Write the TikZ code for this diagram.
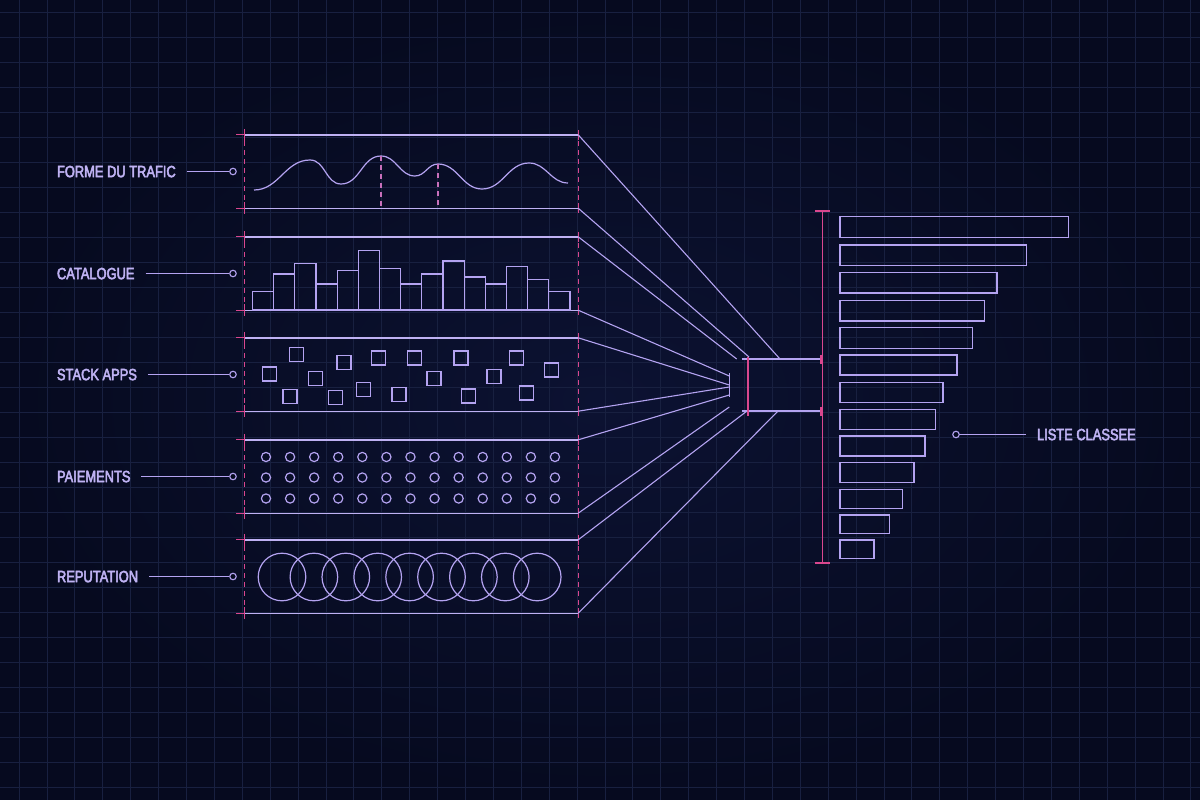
\documentclass[tikz,border=0pt]{standalone}
\usepackage{fontspec}
\newfontfamily\tagfont{Liberation Sans}[FakeStretch=0.79, FakeBold=3]
\usetikzlibrary{positioning}
\definecolor{night}{HTML}{060A1F}
\definecolor{nightglow}{HTML}{0C1232}
\definecolor{gridblue}{HTML}{182040}
\definecolor{lilac}{HTML}{B4A3F1}
\definecolor{lilactext}{HTML}{BFB2F3}
\definecolor{rose}{HTML}{D9478F}

\begin{document}
\begin{tikzpicture}[
  x=1pt, y=-1pt,
  band/.style={minimum width=333pt, minimum height=73pt, inner sep=0pt},
  tag/.style={text=lilactext, font=\tagfont\fontsize{16.3}{18}\selectfont, inner sep=0pt, outer xsep=11pt, text depth=0pt, anchor=west},
  pindot/.style={circle, draw=lilac, line width=1.1pt, fill=night, minimum size=6.5pt, inner sep=0pt},
  wire/.style={draw=lilac, line width=1.1pt},
  rail/.style={draw=lilac!85!white, line width=1.4pt},
  guide/.style={draw=rose, line width=1.1pt, dash pattern=on 5pt off 4pt},
  tick/.style={draw=rose, line width=1.2pt},
  shapeline/.style={draw=lilac, line width=1.2pt},
  fan/.style={draw=lilac, line width=1.1pt},
  gridline/.style={draw=gridblue, line width=0.8pt}
]
\useasboundingbox (0,0) rectangle (1200,800);
\shade[inner color=nightglow, outer color=night] (0,0) rectangle (1200,800);
\foreach \k in {0,...,42} \draw[gridline] (19+27.9*\k,0) -- (19+27.9*\k,800);
\foreach \k in {0,...,31} \draw[gridline] (0,12+25*\k) -- (1200,12+25*\k);

% input bands
\node[band] (traffic) at (411.5,171.5) {};
\node[band] (catalog) at (411.5,273.5) {};
\node[band] (stack)   at (411.5,374.5) {};
\node[band] (pay)     at (411.5,476.5) {};
\node[band] (rep)     at (411.5,576.5) {};

\foreach \p in {traffic,catalog,stack,pay,rep}{
  \draw[guide] (\p.north west) ++(0,-3) -- ++(0,79);
  \draw[guide] (\p.north east) ++(0,-3) -- ++(0,79);
  \draw[rail] (\p.north west) -- (\p.north east);
  \draw[rail] (\p.south west) -- (\p.south east);
  \foreach \c in {north west,south west}{
    \draw[tick] (\p.\c) -- ++(-9,0);
    \draw[tick] (\p.\c) ++(0,-6) -- ++(0,12);
  }
  \foreach \c in {north east,south east}
    \draw[tick] (\p.\c) ++(0,-5) -- ++(0,10);
}

% labels
\node[tag] (traffic-tag) at (46,171.5) {FORME DU TRAFIC};
\node[tag] (catalog-tag) at (46,273.5) {CATALOGUE};
\node[tag] (stack-tag)   at (46,374.5) {STACK APPS};
\node[tag] (pay-tag)     at (46,476.5) {PAIEMENTS};
\node[tag] (rep-tag)     at (46,576.5) {REPUTATION};
\foreach \p in {traffic,catalog,stack,pay,rep}{
  \node[pindot] (\p-pin) at (233,0 |- \p) {};
  \draw[wire] (\p-tag) -- (\p-pin);
}

% traffic wave
\draw[shapeline] (254,190) to[out=0,in=180] (310,160) to[out=0,in=180] (341,184)
  to[out=0,in=180] (381,156) to[out=0,in=180] (415,176) to[out=0,in=180] (438,164)
  to[out=0,in=180] (482,189) to[out=0,in=180] (529,163) to[out=0,in=180] (568,183);
\draw[guide, draw=rose!55!lilac] (381,156) -- (381,0 |- traffic.south);
\draw[guide, draw=rose!55!lilac] (438,164) -- (438,0 |- traffic.south);

% catalogue bars
\foreach \h [count=\i from 0] in {291.7,274,263.3,284,270.3,250.3,268.7,284,274,261,277,284,266.7,279.7,291.7}
  \draw[shapeline] (252.5+21.17*\i,310) rectangle ++(21.17,\h-310);

% app stack squares
\foreach \x/\y in {269.6/374,296.4/354.3,290/396.3,315.4/378.3,344/362.7,335.4/397.7,363.2/389.7,
  378.6/358,399/394.7,414.3/358,434/378.7,461/358,468.6/396,494/376.7,516.4/358,526.4/393,551.4/370}
  \draw[shapeline] (\x-7,\y-7) rectangle ++(14,14);

% payment dots
\foreach \i in {0,...,12}
  \foreach \y in {457,477.5,498.5}
    \draw[shapeline] (266+24.08*\i,\y) circle[radius=4.6];

% reputation rings
\foreach \i in {0,...,8}
  \draw[shapeline] (282+31.9*\i,577) circle[radius=23.8];

% hub
\coordinate (hub-nw) at (741.5,359);
\coordinate (hub-sw) at (741.5,411);
\coordinate (axis-top) at (822.5,210);
\coordinate (axis-bot) at (822.5,563);
\draw[fan] (hub-nw) -- (hub-nw -| axis-top);
\draw[fan] (hub-sw) -- (hub-sw -| axis-top);
\draw[tick] (748,356.5) -- (748,416);
\draw[fan] (729.3,373) -- (729.3,397);

\draw[fan] (traffic.north east) -- (780,359);
\draw[fan] (traffic.south east) -- (749,357);
\draw[fan] (catalog.north east) -- (736.7,359);
\draw[fan] (catalog.south east) -- (729.3,376);
\draw[fan] (stack.north east)   -- (729.3,385);
\draw[fan] (stack.south east)   -- (729.3,387);
\draw[fan] (pay.north east)     -- (729.3,395);
\draw[fan] (pay.south east)     -- (729.3,407);
\draw[fan] (rep.north east)     -- (747,411);
\draw[fan] (rep.south east)     -- (778,411);

% ranked list
\draw[tick] (axis-top) -- (axis-bot);
\draw[tick] (axis-top) ++(-7.5,1) -- ++(15,0);
\draw[tick] (axis-bot) ++(-7.5,0) -- ++(15,0);
\draw[tick, line width=2pt] (821,354.5) -- (821,363.5);
\draw[tick, line width=2pt] (821,406.5) -- (821,415.5);

\foreach \t/\b/\r in {216.7/237.7/1068.3,245/265.3/1026.3,272.7/293/997,300.3/321/984.3,
  327.7/348.3/972.7,355/375/957,382.3/402.3/943,409.3/429.3/935.7,436/456/925,
  462.7/482.3/914,489.3/508.3/902.3,515/533.3/889.7,540/558.3/874}
  \draw[shapeline] (840,\t) rectangle (\r,\b);

\node[pindot] (rank-pin) at (956,434.5) {};
\node[tag] (rank-tag) at (1026,434.5) {LISTE CLASSEE};
\draw[wire] (rank-pin) -- (rank-tag);
\end{tikzpicture}
\end{document}
